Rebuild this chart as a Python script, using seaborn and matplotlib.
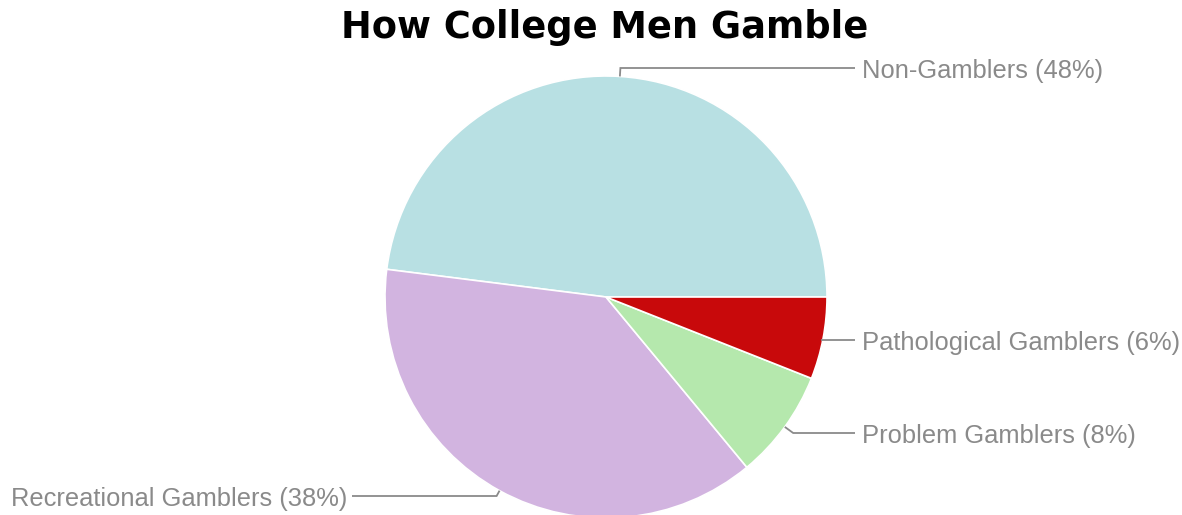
import numpy as np
import matplotlib
matplotlib.use("Agg")
import matplotlib.pyplot as plt
import seaborn as sns

categories = ["Non-Gamblers", "Recreational Gamblers", "Problem Gamblers", "Pathological Gamblers"]
shares = [48, 38, 8, 6]
colors = ["#b8e0e3", "#d2b4e0", "#b5e8ad", "#c8090b"]
label_texts = [f"{c} ({v}%)" for c, v in zip(categories, shares)]

sns.set_style("white")
plt.rcParams["font.family"] = ["Liberation Sans", "DejaVu Sans"]

W, H = 1182, 515
fig = plt.figure(figsize=(W / 100, H / 100), dpi=100)
ax = fig.add_axes([0, 0, 1, 1])

cx, cy, r = 606, H - 297, 221
wedges, _ = ax.pie(shares, colors=sns.color_palette(colors), startangle=0,
                   counterclock=True, center=(cx, cy), radius=r,
                   wedgeprops=dict(edgecolor="white", linewidth=1.2), frame=True)
ax.set_xlim(0, W)
ax.set_ylim(0, H)
ax.set_aspect("equal")
ax.axis("off")

# label rows (pixel rows from top) and sides
label_rows = [68, 496, 433, 340]
sides = [1, -1, 1, 1]
line_color = "#8a8a8a"
text_color = "#8a8a8a"
for w, txt, row, side in zip(wedges, label_texts, label_rows, sides):
    mid = np.deg2rad((w.theta1 + w.theta2) / 2)
    dx, dy = np.cos(mid), np.sin(mid)
    ax_x, ax_y = cx + r * dx, cy + r * dy
    ly = H - row
    if abs(ly - ax_y) < 4:
        pts_x, pts_y = [ax_x - 2, 855], [ly, ly]
    else:
        t = (ly - ax_y) / dy
        ex = ax_x + dx * t
        end_x = 855 if side > 0 else 352
        pts_x, pts_y = [ax_x, ex, end_x], [ax_y, ly, ly]
    ax.plot(pts_x, pts_y, color=line_color, lw=1.3,
            solid_capstyle="butt", solid_joinstyle="miter")
    tx = 862 if side > 0 else 347
    ax.text(tx, ly - 3, txt, ha="left" if side > 0 else "right", va="center",
            fontsize=18.4, color=text_color)

fig.text(605 / W, 1 - 27 / H, "How College Men Gamble", ha="center", va="center",
         fontsize=26.5, fontweight="bold", family="DejaVu Sans", color="black")

fig.savefig("out.png", dpi=100, facecolor="white")
